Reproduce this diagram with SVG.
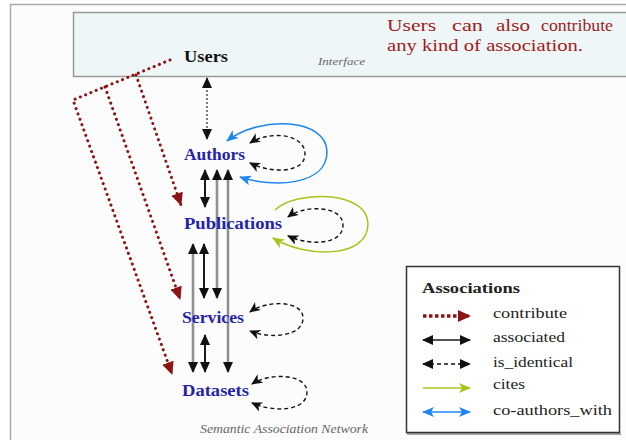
<svg xmlns="http://www.w3.org/2000/svg" width="626" height="440" viewBox="0 0 626 440">
<defs>
<style>
.node{font-family:"Liberation Serif","DejaVu Serif",serif;font-weight:bold;font-size:17px;fill:#2424A8}
.users{fill:#111}
.note{font-family:"Liberation Serif","DejaVu Serif",serif;font-size:16px;fill:#A01C1C}
.cap{font-family:"Liberation Serif","DejaVu Serif",serif;font-style:italic;fill:#666}
.leg{font-family:"Liberation Serif","DejaVu Serif",serif;font-size:15px;fill:#222}
.contrib{fill:none;stroke:#8B1414;stroke-width:3;stroke-dasharray:0.1 5.6;stroke-linecap:round}
.assoc{fill:none;stroke:#1a1a1a;stroke-width:2}
.assocg{fill:none;stroke:#8f8f8f;stroke-width:2.6}
.ident{fill:none;stroke:#111;stroke-width:1.4;stroke-dasharray:4 3}
.cites{fill:none;stroke:#A8C41C;stroke-width:1.5}
.coauth{fill:none;stroke:#1E86F0;stroke-width:1.5}
</style>
<marker id="ahK" markerUnits="userSpaceOnUse" markerWidth="11" markerHeight="10" refX="10" refY="5" orient="auto-start-reverse" viewBox="0 0 11 10"><path d="M0,0 L11,5 L0,10 L3,5 z" fill="#111"/></marker>
<marker id="ahKs" markerUnits="userSpaceOnUse" markerWidth="11" markerHeight="10" refX="10" refY="5" orient="auto-start-reverse" viewBox="0 0 11 10"><path d="M0,0 L11,5 L0,10 z" fill="#111"/></marker>
<marker id="ahR" markerUnits="userSpaceOnUse" markerWidth="13" markerHeight="12" refX="12" refY="6" orient="auto-start-reverse" viewBox="0 0 13 12"><path d="M0,0 L13,6 L0,12 z" fill="#8B1414"/></marker>
<marker id="ahB" markerUnits="userSpaceOnUse" markerWidth="12" markerHeight="10" refX="11" refY="5" orient="auto-start-reverse" viewBox="0 0 12 10"><path d="M0,0 L12,5 L0,10 L3,5 z" fill="#1E86F0"/></marker>
<marker id="ahG" markerUnits="userSpaceOnUse" markerWidth="12" markerHeight="10" refX="11" refY="5" orient="auto-start-reverse" viewBox="0 0 12 10"><path d="M0,0 L12,5 L0,10 L3,5 z" fill="#A8C41C"/></marker>
</defs>

<rect x="0" y="0" width="626" height="440" fill="#ffffff"/>
<rect x="10.5" y="4.5" width="700" height="500" fill="#fcfcfc" stroke="#aaaaaa" stroke-width="1.5"/>

<g id="interface">
<rect x="73.5" y="12.5" width="600" height="64" fill="#EEF6F8" stroke="#9a9a9a" stroke-width="1.5"/>
<text class="cap" x="318" y="65" font-size="11" textLength="47" lengthAdjust="spacingAndGlyphs">Interface</text>
<text class="note" y="31"><tspan x="387" textLength="49" lengthAdjust="spacingAndGlyphs">Users</tspan><tspan x="452" textLength="31" lengthAdjust="spacingAndGlyphs">can</tspan><tspan x="496" textLength="34" lengthAdjust="spacingAndGlyphs">also</tspan><tspan x="541" textLength="72" lengthAdjust="spacingAndGlyphs">contribute</tspan></text>
<text class="note" x="387" y="51" textLength="196" lengthAdjust="spacingAndGlyphs">any kind of association.</text>
</g>

<g id="connectors">
<path class="contrib" d="M170,60 L73,100 L172,374" marker-end="url(#ahR)"/>
<path class="contrib" d="M105,87 L180,299" marker-end="url(#ahR)"/>
<path class="contrib" d="M136,75 L181,205" marker-end="url(#ahR)"/>
<path d="M207,78 L207,139" fill="none" stroke="#222" stroke-width="1.2" stroke-dasharray="2 2" marker-start="url(#ahKs)" marker-end="url(#ahKs)"/>
<path class="assoc" d="M205,170 L205,207" marker-start="url(#ahKs)" marker-end="url(#ahKs)"/>
<path class="assocg" d="M217,170 L217,298" marker-start="url(#ahKs)" marker-end="url(#ahKs)"/>
<path class="assocg" d="M228,170 L228,372" marker-start="url(#ahKs)" marker-end="url(#ahKs)"/>
<path class="assocg" d="M193,244 L193,372" marker-start="url(#ahKs)" marker-end="url(#ahKs)"/>
<path class="assoc" d="M204,244 L204,298" marker-start="url(#ahKs)" marker-end="url(#ahKs)"/>
<path class="assoc" d="M205,335 L205,372" marker-start="url(#ahKs)" marker-end="url(#ahKs)"/>
<path class="coauth" d="M227,141 C260,115 327,118 327,152 C327,186 272,188 240,177" marker-start="url(#ahB)" marker-end="url(#ahB)"/>
<path class="ident" d="M250,143 C270,130 305,134 305,154 C305,173 272,174 250,163" marker-start="url(#ahK)" marker-end="url(#ahK)"/>
<path class="cites" d="M275,210 C295,190 368,190 368,224 C368,259 305,258 273,238" marker-end="url(#ahG)"/>
<path class="ident" d="M288,217 C305,204 343,206 343,225 C343,245 310,246 288,236" marker-start="url(#ahK)" marker-end="url(#ahK)"/>
<path class="ident" d="M250,312 C266,300 303,300 303,318 C303,337 270,339 250,331" marker-start="url(#ahK)" marker-end="url(#ahK)"/>
<path class="ident" d="M252,384 C270,372 307,374 307,392 C307,411 275,413 252,403" marker-start="url(#ahK)" marker-end="url(#ahK)"/>
</g>

<g id="node-users"><text class="node users" x="184" y="62" textLength="44" lengthAdjust="spacingAndGlyphs">Users</text></g>
<g id="node-authors"><text class="node" x="184" y="160" textLength="61" lengthAdjust="spacingAndGlyphs">Authors</text></g>
<g id="node-publications"><text class="node" x="184" y="229" textLength="98" lengthAdjust="spacingAndGlyphs">Publications</text></g>
<g id="node-services"><text class="node" x="182" y="323" textLength="62" lengthAdjust="spacingAndGlyphs">Services</text></g>
<g id="node-datasets"><text class="node" x="182" y="396" textLength="67" lengthAdjust="spacingAndGlyphs">Datasets</text></g>

<text class="cap" x="200" y="433" font-size="12" fill="#777" textLength="168" lengthAdjust="spacingAndGlyphs">Semantic Association Network</text>

<g id="legend">
<line x1="407" y1="434" x2="621" y2="434" stroke="#888" stroke-width="1.5"/>
<rect x="406.5" y="266.5" width="213" height="166" fill="#ffffff" stroke="#333" stroke-width="1.5"/>
<text class="leg" x="422" y="293" font-weight="bold" textLength="98" lengthAdjust="spacingAndGlyphs">Associations</text>
<path d="M423,316 L470,316" fill="none" stroke="#8B1414" stroke-width="3.5" stroke-dasharray="3.5 2.5" marker-end="url(#ahR)"/>
<text class="leg" x="493" y="318" textLength="74" lengthAdjust="spacingAndGlyphs">contribute</text>
<path d="M423,340 L470,340" fill="none" stroke="#555" stroke-width="2" marker-start="url(#ahKs)" marker-end="url(#ahKs)"/>
<text class="leg" x="493" y="342" textLength="72" lengthAdjust="spacingAndGlyphs">associated</text>
<path d="M423,364 L470,364" fill="none" stroke="#111" stroke-width="1.5" stroke-dasharray="4 3" marker-start="url(#ahKs)" marker-end="url(#ahKs)"/>
<text class="leg" x="493" y="367" textLength="80" lengthAdjust="spacingAndGlyphs">is_identical</text>
<path d="M423,388 L470,388" class="cites" stroke-width="2" marker-end="url(#ahG)"/>
<text class="leg" x="493" y="389" textLength="32" lengthAdjust="spacingAndGlyphs">cites</text>
<path d="M423,412 L470,412" class="coauth" stroke-width="2" marker-start="url(#ahB)" marker-end="url(#ahB)"/>
<text class="leg" x="493" y="415" textLength="119" lengthAdjust="spacingAndGlyphs">co-authors_with</text>
</g>
</svg>
